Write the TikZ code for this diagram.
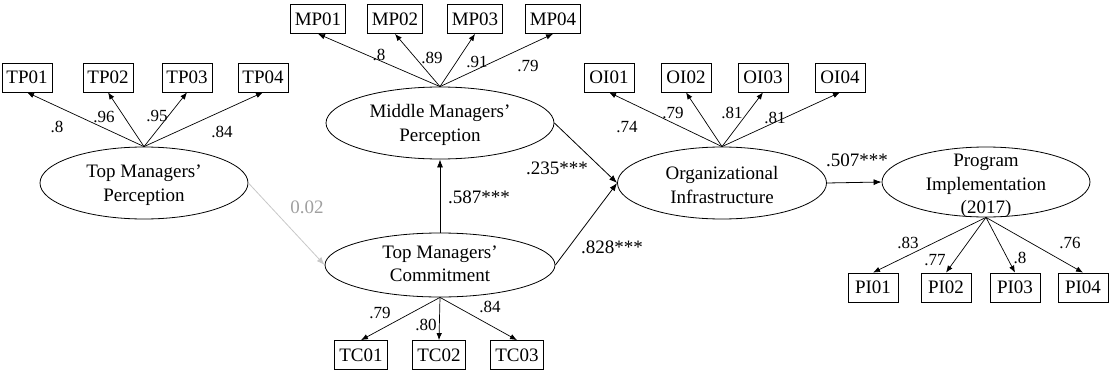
\documentclass[tikz,border=0pt]{standalone}
\usepackage{fontspec}
\setmainfont{Liberation Serif}
\usetikzlibrary{shapes.geometric,arrows.meta}
\definecolor{pathgray}{RGB}{200,200,200}
\definecolor{labelgray}{RGB}{160,160,160}
\tikzset{
  obs/.style={draw, line width=0.8pt, minimum width=50pt, minimum height=29pt,
    inner xsep=4.5pt, inner ysep=0pt, font=\fontsize{19}{22}\selectfont},
  latent/.style={draw, ellipse, line width=0.8pt, inner sep=0pt},
  ltext/.style={align=center, font=\fontsize{19}{23.5}\selectfont, inner sep=0pt},
  load/.style={-{Latex[length=7pt,width=5.5pt]}, line width=0.7pt},
  reg/.style={-{Latex[length=8pt,width=6pt]}, line width=0.8pt},
  coef/.style={font=\fontsize{17}{20}\selectfont, inner sep=0pt},
  pcoef/.style={font=\fontsize{19}{22}\selectfont, inner sep=0pt},
}
\begin{document}
\begin{tikzpicture}[x=1pt,y=-1pt]
\useasboundingbox (0,0) rectangle (1109,372);

% latent variables
\node[latent, minimum width=208pt, minimum height=72pt] (tmp) at (144,183) {};
\node[ltext] (tmp-t) at (144,185) {Top Managers’\\Perception};
\node[latent, minimum width=228pt, minimum height=72pt] (mmp) at (440,123) {};
\node[ltext] (mmp-t) at (440,125) {Middle Managers’\\Perception};
\node[latent, minimum width=230pt, minimum height=64pt] (tmc) at (440,265) {};
\node[ltext] (tmc-t) at (440,264) {Top Managers’\\Commitment};
\node[latent, minimum width=209pt, minimum height=72pt] (oi) at (722,183) {};
\node[ltext] (oi-t) at (722,185) {Organizational\\Infrastructure};
\node[latent, minimum width=208pt, minimum height=70pt] (pi) at (986,182) {};
\node[ltext] (pi-t) at (986,186) {Program\\Implementation\\(2017)};

% indicators
\node[obs] (tp1) at (27,77.5) {TP01};
\node[obs] (tp2) at (108,77.5) {TP02};
\node[obs] (tp3) at (187,77.5) {TP03};
\node[obs] (tp4) at (263,77.5) {TP04};

\node[obs] (mp1) at (318,19) {MP01};
\node[obs] (mp2) at (395,19) {MP02};
\node[obs] (mp3) at (475,19) {MP03};
\node[obs] (mp4) at (553,19) {MP04};

\node[obs] (oi1) at (609,77.5) {OI01};
\node[obs] (oi2) at (686,77.5) {OI02};
\node[obs] (oi3) at (763,77.5) {OI03};
\node[obs] (oi4) at (840,77.5) {OI04};

\node[obs] (tc1) at (361,355) {TC01};
\node[obs] (tc2) at (439,355) {TC02};
\node[obs] (tc3) at (517,355) {TC03};

\node[obs] (pi1) at (873,287.5) {PI01};
\node[obs] (pi2) at (946,287.5) {PI02};
\node[obs] (pi3) at (1015,287.5) {PI03};
\node[obs] (pi4) at (1083,287.5) {PI04};

% loadings
\foreach \i in {1,...,4} {
  \draw[load] (tmp.north) -- (tp\i.south);
  \draw[load] (mmp.north) -- (mp\i.south);
  \draw[load] (oi.north) -- (oi\i.south);
  \draw[load] (pi.south) -- (pi\i.north);
}
\foreach \i in {1,...,3} {
  \draw[load] (tmc.south) -- (tc\i.north);
}

\node[coef] (l-tp1) at (57,127) {.8};
\node[coef] (l-tp2) at (104,117) {.96};
\node[coef] (l-tp3) at (157,116) {.95};
\node[coef] (l-tp4) at (222,132) {.84};

\node[coef] (l-mp1) at (379,55) {.8};
\node[coef] (l-mp2) at (432,58) {.89};
\node[coef] (l-mp3) at (477,62) {.91};
\node[coef] (l-mp4) at (528,66) {.79};

\node[coef] (l-oi1) at (627,127) {.74};
\node[coef] (l-oi2) at (673,113) {.79};
\node[coef] (l-oi3) at (732,113) {.81};
\node[coef] (l-oi4) at (775,118) {.81};

\node[coef] (l-tc1) at (380,313) {.79};
\node[coef] (l-tc2) at (426,325) {.80};
\node[coef] (l-tc3) at (490,307) {.84};

\node[coef] (l-pi1) at (908,243) {.83};
\node[coef] (l-pi2) at (935,260) {.77};
\node[coef] (l-pi3) at (1020,258) {.8};
\node[coef] (l-pi4) at (1070,243) {.76};

% structural paths
\draw[reg, draw=pathgray] (tmp.east) -- (tmc.west);
\draw[reg] (tmc.north) -- (mmp.south);
\draw[reg] (mmp.east) -- (oi.west);
\draw[reg] (tmc.east) -- (oi.west);
\draw[reg] (oi.east) -- (pi.west);

\node[pcoef, text=labelgray] (c-tmp) at (307,207) {0.02};
\node[pcoef] (c-tmc) at (479,197) {.587***};
\node[pcoef] (c-mmp) at (557,168) {.235***};
\node[pcoef] (c-tmc-oi) at (612,247) {.828***};
\node[pcoef] (c-oi) at (857,160) {.507***};
\end{tikzpicture}
\end{document}
